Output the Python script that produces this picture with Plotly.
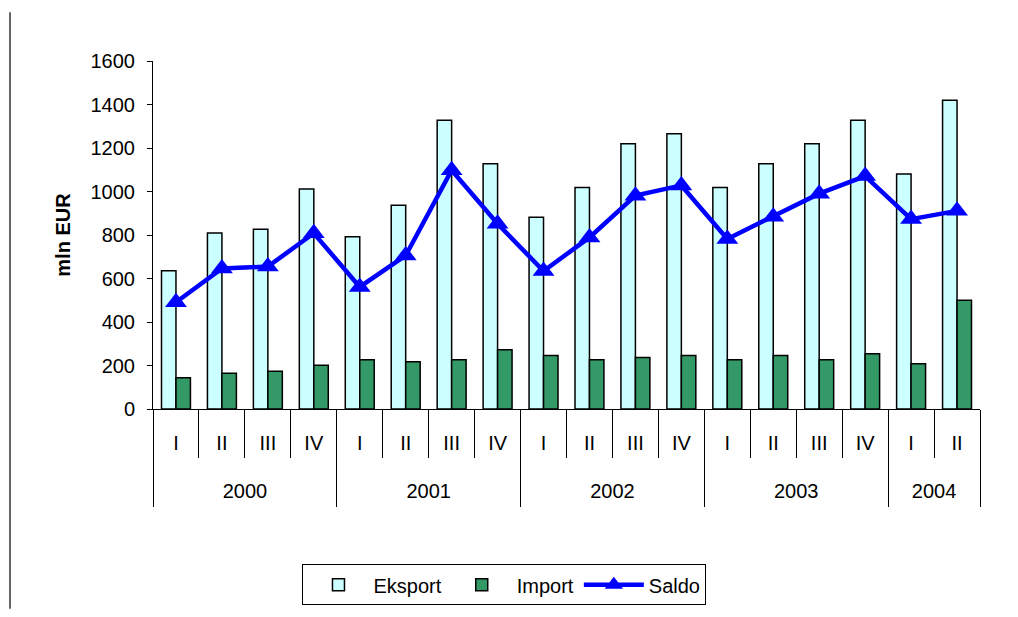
import plotly.graph_objects as go

years = ["2000", "2001", "2002", "2003", "2004"]
quarters_per_year = [4, 4, 4, 4, 2]
quarters = ["I", "II", "III", "IV", "I", "II", "III", "IV", "I", "II", "III", "IV",
            "I", "II", "III", "IV", "I", "II"]

eksport = [636, 809, 827, 1011, 792, 937, 1328, 1128, 882, 1018, 1220, 1265,
           1018, 1128, 1220, 1328, 1081, 1419]
import_ = [144, 164, 173, 201, 227, 217, 227, 272, 246, 227, 237, 246,
           227, 246, 227, 254, 208, 500]
saldo = [491, 646, 655, 808, 561, 706, 1098, 852, 634, 789, 981, 1028,
         782, 884, 990, 1071, 873, 911]

FONT = "Liberation Sans, Arial, sans-serif"

idx = list(range(len(quarters)))
xr = [-0.5, len(quarters) - 0.5]

# boundaries for quarter and year dividers
q_bounds = [i - 0.5 for i in range(len(quarters) + 1)]
y_bounds = [-0.5]
y_centers = []
acc = 0
for n in quarters_per_year:
    y_centers.append(acc + (n - 1) / 2)
    acc += n
    y_bounds.append(acc - 0.5)

fig = go.Figure()
fig.add_trace(go.Bar(
    x=idx, y=eksport, name="Eksport",
    marker=dict(color="#CCFFFF", line=dict(color="black", width=1.5)),
))
fig.add_trace(go.Bar(
    x=idx, y=import_, name="Import",
    marker=dict(color="#339966", line=dict(color="black", width=1.5)),
))
fig.add_trace(go.Scatter(
    x=idx, y=saldo, name="Saldo", xaxis="x2",
    mode="lines+markers",
    line=dict(color="#0000FF", width=4.5),
    marker=dict(symbol="triangle-up", size=19, color="#0000FF"),
))

fig.update_layout(
    width=1018, height=617,
    margin=dict(l=153, r=38, t=61, b=206),
    paper_bgcolor="white", plot_bgcolor="white",
    font=dict(family=FONT, size=20, color="black"),
    barmode="group", bargap=0.37, bargroupgap=0,
    showlegend=True,
    legend=dict(
        orientation="h", x=0.425, xanchor="center", y=-0.446, yanchor="top",
        bordercolor="black", borderwidth=1, bgcolor="white",
        font=dict(family=FONT, size=20, color="black"),
        traceorder="normal", itemwidth=60,
    ),
    xaxis=dict(
        range=xr, tickmode="array", tickvals=idx, ticktext=quarters,
        showgrid=False, zeroline=False,
        showline=True, linecolor="black", linewidth=1,
        ticks="outside", ticklen=16, tickcolor="rgba(0,0,0,0)",
        tickfont=dict(family=FONT, size=20, color="black"),
        minor=dict(tickmode="array", tickvals=q_bounds, ticks="outside",
                   ticklen=48, tickcolor="black", tickwidth=1, showgrid=False),
    ),
    xaxis2=dict(
        range=xr, overlaying="x", anchor="y", side="bottom",
        tickmode="array", tickvals=y_centers, ticktext=years,
        showgrid=False, zeroline=False, showline=False,
        ticks="outside", ticklen=64, tickcolor="rgba(0,0,0,0)",
        tickfont=dict(family=FONT, size=20, color="black"),
        minor=dict(tickmode="array", tickvals=y_bounds, ticks="outside",
                   ticklen=97, tickcolor="black", tickwidth=1, showgrid=False),
    ),
    yaxis=dict(
        range=[0, 1600], tickmode="linear", tick0=0, dtick=200,
        showgrid=False, zeroline=False,
        showline=True, linecolor="black", linewidth=1,
        ticks="outside", ticklen=5, tickcolor="black",
        ticklabelstandoff=8,
        tickfont=dict(family=FONT, size=20, color="black"),
        title=dict(text="<b>mln EUR</b>", standoff=14,
                   font=dict(family=FONT, size=20, color="black")),
    ),
    shapes=[dict(type="line", xref="paper", yref="paper",
                 x0=-0.1729, x1=-0.1729, y0=-0.574, y1=1.14,
                 line=dict(color="#333333", width=1.5))],
)

fig.write_html("out.html",
               config={"displayModeBar": False},
               post_script="document.body.style.margin='0';document.body.style.overflow='hidden';")
